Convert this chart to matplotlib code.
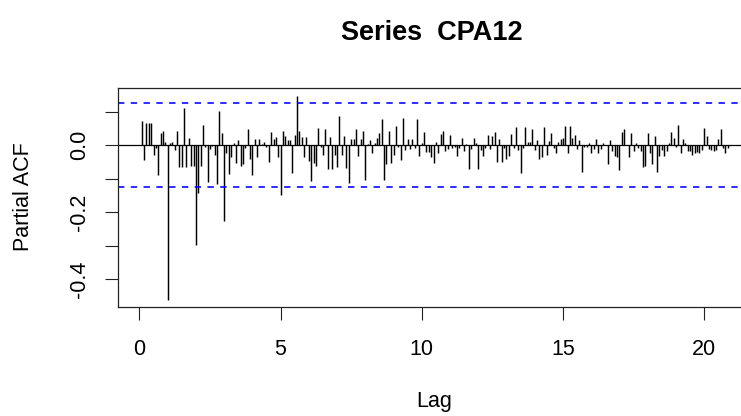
import numpy as np
import matplotlib
matplotlib.use("Agg")
import matplotlib.pyplot as plt

plt.rcParams['font.family'] = ['Liberation Sans', 'DejaVu Sans']

# partial autocorrelations for lags 1..250 (monthly series, frequency 12)
freq = 12
pacf_vals = [
    0.073, -0.044, 0.065, 0.065, 0.065, -0.028, -0.010, -0.090, 0.036, 0.043,
    0.010, -0.462, 0.005, 0.010, -0.014, 0.043, -0.065, -0.065, 0.109, -0.065,
    0.022, -0.061, -0.061, -0.298, -0.144, -0.061, 0.059, -0.006, -0.109, -0.011,
    -0.004, -0.028, -0.117, 0.103, 0.036, -0.225, -0.024, -0.087, -0.036, 0.006,
    -0.052, 0.014, -0.062, -0.055, -0.008, 0.048, -0.040, -0.090, 0.019, -0.036,
    0.019, 0.002, 0.010, -0.006, -0.050, 0.040, 0.019, 0.024, -0.036, -0.149,
    0.043, 0.028, 0.015, 0.015, -0.082, 0.031, 0.145, 0.043, 0.024, -0.036,
    0.024, -0.047, -0.107, -0.052, -0.062, 0.051, -0.006, -0.030, 0.048, -0.072,
    0.024, -0.072, -0.028, -0.065, 0.086, -0.028, 0.027, -0.069, -0.113, 0.019,
    0.019, 0.048, -0.033, 0.019, 0.043, -0.103, 0.003, 0.014, -0.023, 0.006,
    0.022, 0.036, 0.078, -0.103, -0.057, 0.043, -0.052, -0.028, 0.056, -0.006,
    -0.045, 0.081, -0.016, 0.019, -0.011, 0.019, -0.008, 0.078, -0.033, 0.006,
    0.040, -0.020, -0.020, -0.036, -0.052, 0.010, -0.024, 0.032, 0.043, -0.018,
    -0.011, 0.031, -0.008, -0.006, -0.031, -0.008, 0.022, -0.018, 0.002, -0.072,
    -0.013, 0.022, 0.006, -0.072, -0.014, -0.031, -0.008, 0.031, -0.011, 0.027,
    0.040, -0.050, 0.019, -0.050, -0.008, -0.040, -0.031, 0.032, -0.010, 0.053,
    -0.016, -0.082, -0.008, 0.053, 0.009, 0.009, 0.048, -0.014, 0.014, -0.040,
    -0.036, 0.053, -0.028, 0.012, 0.036, -0.008, -0.023, 0.010, 0.019, 0.022,
    0.056, -0.023, 0.056, 0.022, 0.030, -0.013, 0.014, -0.079, -0.006, -0.006,
    0.006, -0.023, -0.011, 0.019, -0.023, -0.011, 0.006, 0.001, -0.057, 0.014,
    -0.018, -0.031, -0.036, -0.075, 0.040, 0.048, 0.001, -0.036, 0.036, -0.018,
    0.006, -0.008, -0.018, -0.065, -0.061, 0.036, -0.023, -0.057, 0.027, -0.079,
    -0.033, -0.016, -0.033, -0.018, 0.006, 0.040, 0.022, -0.006, 0.061, -0.023,
    0.019, 0.006, -0.018, -0.018, -0.028, -0.023, -0.020, -0.023, -0.014, 0.051,
    0.027, -0.011, -0.016, -0.018, -0.014, 0.019, 0.048, -0.008, -0.023, -0.008,
]
conf_limit = 0.124

x_ticks = [0, 5, 10, 15, 20]
y_ticks = [-0.4, -0.3, -0.2, -0.1, 0.0, 0.1]
y_tick_labels = ['-0.4', '', '-0.2', '', '0.0', '']

lags = np.arange(1, len(pacf_vals) + 1) / freq

W, H = 741, 416
fig = plt.figure(figsize=(W / 100, H / 100), dpi=100)
# plot box runs past the right edge of the picture, as in the reference
left, right, top, bottom = 118.3, 755.0, 88.0, 306.7
ax = fig.add_axes([left / W, 1 - bottom / H, (right - left) / W, (bottom - top) / H])

ax.vlines(lags, 0, pacf_vals, color='black', lw=1.05)
ax.axhline(0, color='black', lw=0.9)
for c in (conf_limit, -conf_limit):
    ax.axhline(c, color='#0000ff', lw=1.15, linestyle=(0, (4.0, 4.0)))

ax.set_xlim(-0.747, 21.8)
ax.set_ylim(-0.481, 0.170)

ax.set_xticks(x_ticks)
ax.set_xticklabels([str(t) for t in x_ticks])
ax.set_yticks(y_ticks)
ax.set_yticklabels(y_tick_labels, rotation=90, va='center')

ax.tick_params(axis='both', direction='out', length=9.5, width=0.8,
               labelsize=15.5, color='#222222')
ax.tick_params(axis='x', pad=14)
ax.tick_params(axis='y', pad=11)

for sp in ax.spines.values():
    sp.set_linewidth(0.9)
    sp.set_color('#222222')

fig.text(432 / W, 1 - 33 / H, 'Series  CPA12', ha='center', va='center',
         fontsize=19.5, fontweight='bold')
fig.text(434 / W, 1 - 402 / H, 'Lag', ha='center', va='center', fontsize=15.5)
fig.text(23.5 / W, 1 - 197 / H, 'Partial ACF', ha='center', va='center',
         rotation=90, fontsize=15.5)

fig.savefig('out.png', dpi=100)
